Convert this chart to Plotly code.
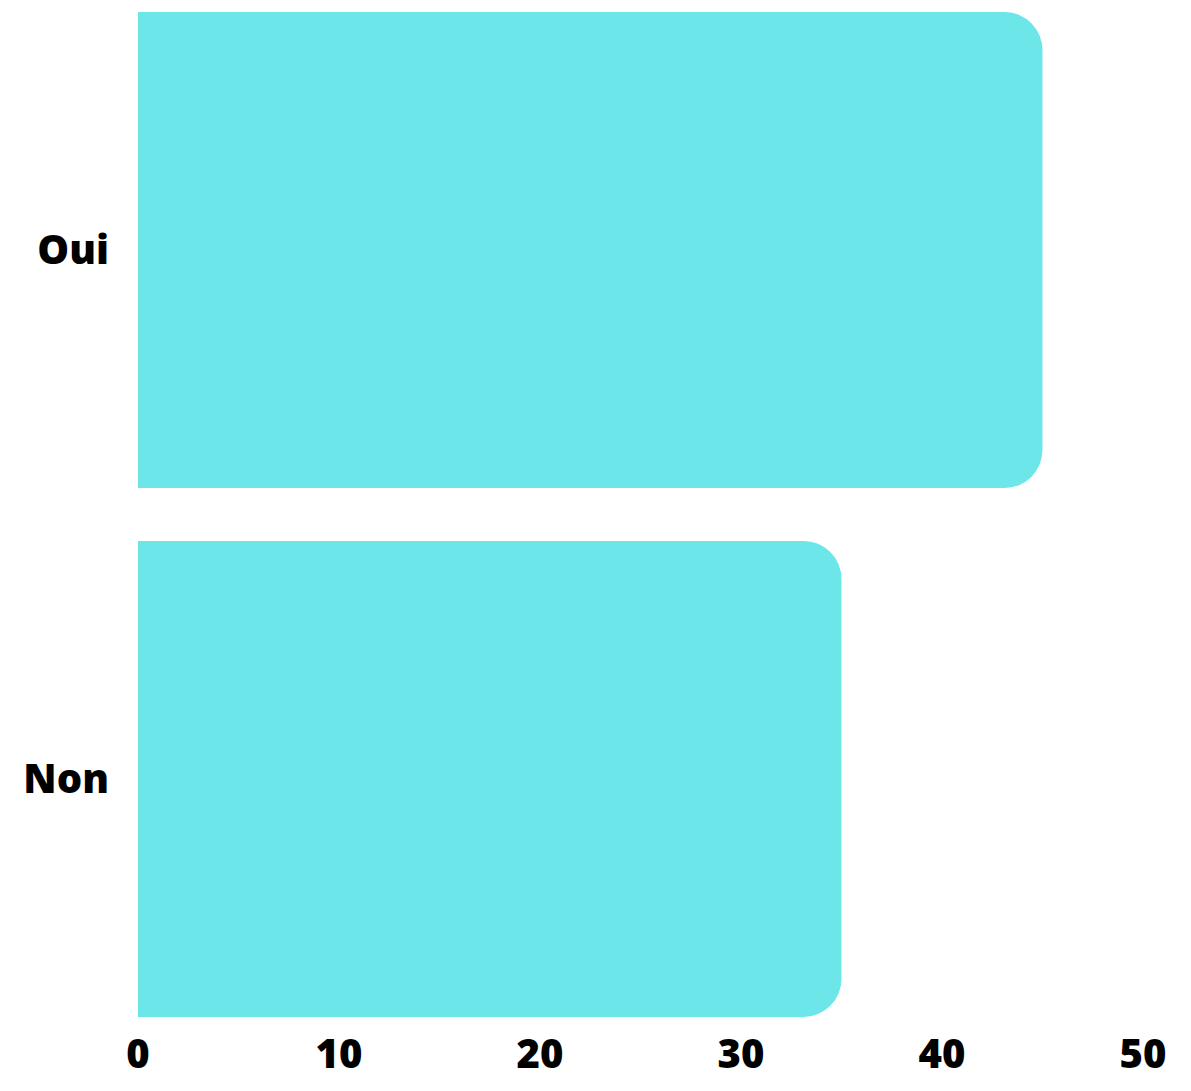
import plotly.graph_objects as go

categories = ["Non", "Oui"]
values = [35, 45]
tick_vals = [0, 10, 20, 30, 40, 50]
tick_text = ["0", "10", "20", "30", "40", "50"]

fig = go.Figure(go.Bar(
    x=values, y=categories, orientation="h",
    marker=dict(color="#6CE6E8", line=dict(width=0)),
    hoverinfo="skip",
))

font = dict(family="Open Sans", size=40, color="#000000", weight=800)

fig.update_layout(
    width=1183, height=1083,
    margin=dict(l=130, r=48, t=4, b=74),
    paper_bgcolor="white", plot_bgcolor="white",
    bargap=0.1, barcornerradius=38,
    showlegend=False,
    xaxis=dict(range=[0, 50], tickvals=tick_vals, ticktext=tick_text,
               showgrid=False, zeroline=False, showline=False,
               tickfont=font, ticks="", ticklabelstandoff=10),
    yaxis=dict(range=[-0.45, 1.45], showgrid=False, zeroline=False,
               showline=False, tickfont=font, ticks="", ticklabelstandoff=28),
)

fig.write_html("out.html")
